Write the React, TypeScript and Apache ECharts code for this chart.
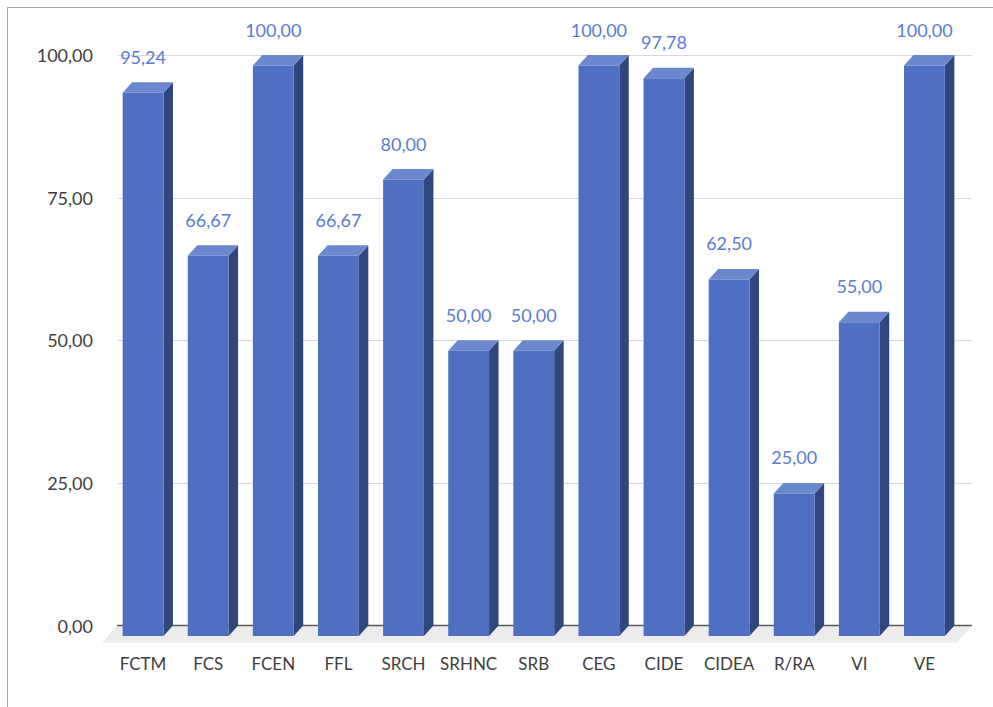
import React, { useEffect, useRef } from "react";
import * as echarts from "echarts";

const categories = ["FCTM", "FCS", "FCEN", "FFL", "SRCH", "SRHNC", "SRB", "CEG", "CIDE", "CIDEA", "R/RA", "VI", "VE"];
const values = [95.24, 66.67, 100.0, 66.67, 80.0, 50.0, 50.0, 100.0, 97.78, 62.5, 25.0, 55.0, 100.0];
const yTicks = [0, 25, 50, 75, 100];

const FONT = "Lato, 'Noto Sans', sans-serif";
const fmt = (v: number) => v.toFixed(2).replace(".", ",");

export default function App() {
  const ref = useRef<HTMLDivElement>(null);
  useEffect(() => {
    if (!ref.current) return;
    const chart = echarts.init(ref.current, undefined, { renderer: "svg" });
    const DX = 9.5;
    const DY = 10.5;
    const EXT = 7.5; // back wall extends past the last category band
    chart.setOption({
      animation: false,
      backgroundColor: "#ffffff",
      graphic: [
        {
          type: "rect",
          shape: { x: 7.5, y: 7.5, width: 2000, height: 2000 },
          style: { fill: "none", stroke: "#a6a6a6", lineWidth: 1 },
          silent: true,
        },
      ],
      grid: { left: 118, right: 28.5, top: 55, bottom: 81.5 },
      xAxis: {
        type: "category",
        data: categories,
        axisTick: { show: false },
        axisLine: { show: false },
        axisLabel: {
          margin: 29,
          color: "#404040",
          fontFamily: FONT,
          fontSize: 17,
          padding: [0, 15, 0, 0],
          interval: 0,
        },
      },
      yAxis: {
        type: "value",
        min: yTicks[0],
        max: yTicks[yTicks.length - 1],
        interval: 25,
        axisLine: { show: false },
        axisTick: { show: false },
        splitLine: { show: false },
        axisLabel: {
          margin: 25,
          color: "#404040",
          fontFamily: FONT,
          fontSize: 18,
          formatter: (v: number) => fmt(v),
        },
      },
      series: [
        {
          type: "custom",
          z: 0,
          silent: true,
          data: [[0, 0]],
          renderItem: (params: any, api: any) => {
            const cs = params.coordSys;
            const x0 = cs.x;
            const x1 = cs.x + cs.width + EXT;
            const yb = api.coord([0, 0])[1];
            const children: any[] = [
              {
                type: "polygon",
                shape: {
                  points: [
                    [x0 - 1, yb],
                    [x1, yb],
                    [x1 - 15, yb + 17],
                    [x0 - 16, yb + 17],
                  ],
                },
                style: { fill: "#ececec" },
              },
            ];
            yTicks.forEach((t) => {
              const y = Math.round(api.coord([0, t])[1]) + 0.5;
              if (t === 0) return;
              children.push({
                type: "line",
                shape: { x1: x0, y1: y, x2: x1, y2: y },
                style: { stroke: "#d9d9d9", lineWidth: 1 },
              });
            });
            children.push({
              type: "line",
              shape: { x1: x0 - 1, y1: yb, x2: x1, y2: yb },
              style: { stroke: "#595959", lineWidth: 1.5 },
            });
            return { type: "group", children };
          },
        },
        {
          type: "custom",
          z: 2,
          data: values.map((v, i) => [i, v]),
          encode: { x: 0, y: 1 },
          renderItem: (params: any, api: any) => {
            const i = api.value(0);
            const v = api.value(1);
            const top = api.coord([i, v]);
            const base = api.coord([i, 0]);
            const band = api.size([1, 0])[0];
            const bw = band * 0.627;
            const bl = top[0] + 2 - bw / 2;
            const br = bl + bw;
            const fl = bl - DX;
            const fr = br - DX;
            const ft = top[1] + DY;
            const fb = base[1] + DY;
            return {
              type: "group",
              children: [
                {
                  type: "polygon",
                  shape: { points: [[fr, ft], [br, top[1]], [br, base[1]], [fr, fb]] },
                  style: { fill: "#30477e" },
                },
                {
                  type: "polygon",
                  shape: { points: [[fl, ft], [bl, top[1]], [br, top[1]], [fr, ft]] },
                  style: { fill: "#6b88cf" },
                },
                {
                  type: "rect",
                  shape: { x: fl, y: ft, width: bw, height: fb - ft },
                  style: { fill: "#4f6fc3" },
                },
                {
                  type: "text",
                  x: (fl + fr) / 2,
                  y: ft - 36,
                  style: {
                    text: fmt(v),
                    align: "center",
                    verticalAlign: "middle",
                    fill: "#5a7bd3",
                    font: `18px ${FONT}`,
                  },
                },
              ],
            };
          },
        },
      ],
    });
    return () => chart.dispose();
  }, []);
  return (
    <div
      ref={ref}
      style={{ position: "fixed", left: 0, top: 0, width: 993, height: 707 }}
    />
  );
}
